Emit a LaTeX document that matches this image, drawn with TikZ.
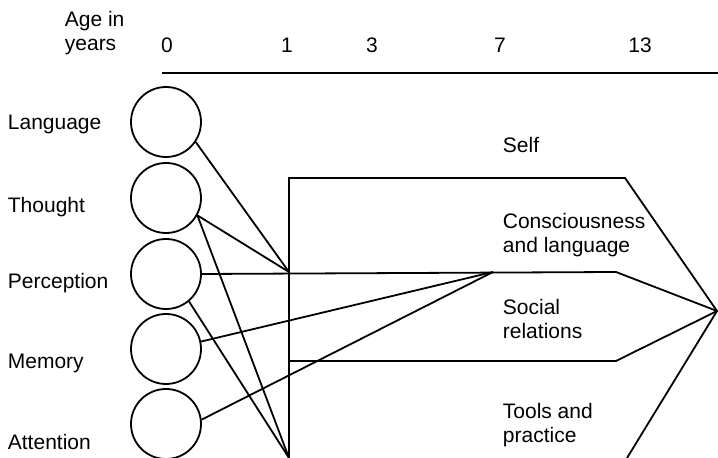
\documentclass[tikz,border=0pt]{standalone}
\usepackage{fontspec}
\setmainfont{Liberation Sans}
\begin{document}
\begin{tikzpicture}[x=0.5pt,y=-0.5pt,line width=0.9pt,
      every node/.append style={font=\fontsize{10.5}{12}\selectfont}]
    \tikzstyle{area} = [circle,draw,minimum size=35pt,inner sep=0pt]
    \tikzstyle{func} = [anchor=west,inner sep=0pt]
    \tikzstyle{dom} = [anchor=west,align=left,inner sep=0pt]
    \useasboundingbox (0,0) rectangle (718,458);
    \node[dom] (age) at (64,33) {Age in\\years};
    \foreach \yr/\x in {0/167,1/287,3/372,7/500,13/640}
      \node (yr\yr) at (\x,45) {\yr};
    \draw (162,73) coordinate (axisL) -- (718,73) coordinate (axisR);
    \node[area] (lang) at (166,122) {};
    \node[area] (thought) at (166,198) {};
    \node[area] (percep) at (166,274) {};
    \node[area] (memory) at (166,349) {};
    \node[area] (attn) at (166,424) {};
    \node[func] (langtxt) at (7,124) {Language};
    \node[func] (thoughttxt) at (7,207) {Thought};
    \node[func] (perceptxt) at (7,283) {Perception};
    \node[func] (memorytxt) at (7,363) {Memory};
    \node[func] (attntxt) at (7,442) {Attention};
    \coordinate (top) at (289,178);
    \coordinate (mid) at (289,272);
    \coordinate (bot) at (289,458);
    \coordinate (seven) at (493,272);
    \coordinate (apex) at (717,311);
    \coordinate (selfR) at (625,178);
    \coordinate (consR) at (616,272);
    \coordinate (socL) at (289,361);
    \coordinate (socR) at (616,361);
    \coordinate (toolR) at (627,458);
    \draw (bot) -- (top) -- (selfR) -- (apex) -- (toolR);
    \draw (percep.east) -- (consR) -- (apex);
    \draw (socL) -- (socR) -- (apex);
    \draw (lang.-34) -- (mid);
    \draw (thought.-29) -- (mid);
    \draw (thought.-29) -- (bot);
    \draw (percep.-50) -- (bot);
    \draw (memory.12) -- (seven);
    \draw (attn.7) -- (seven);
    \node[func] (self) at (502,145) {Self};
    \node[dom] (cons) at (502,235) {Consciousness\\and language};
    \node[dom] (soc) at (502,319) {Social\\relations};
    \node[dom] (tools) at (502,425) {Tools and\\practice};
\end{tikzpicture}
\end{document}
